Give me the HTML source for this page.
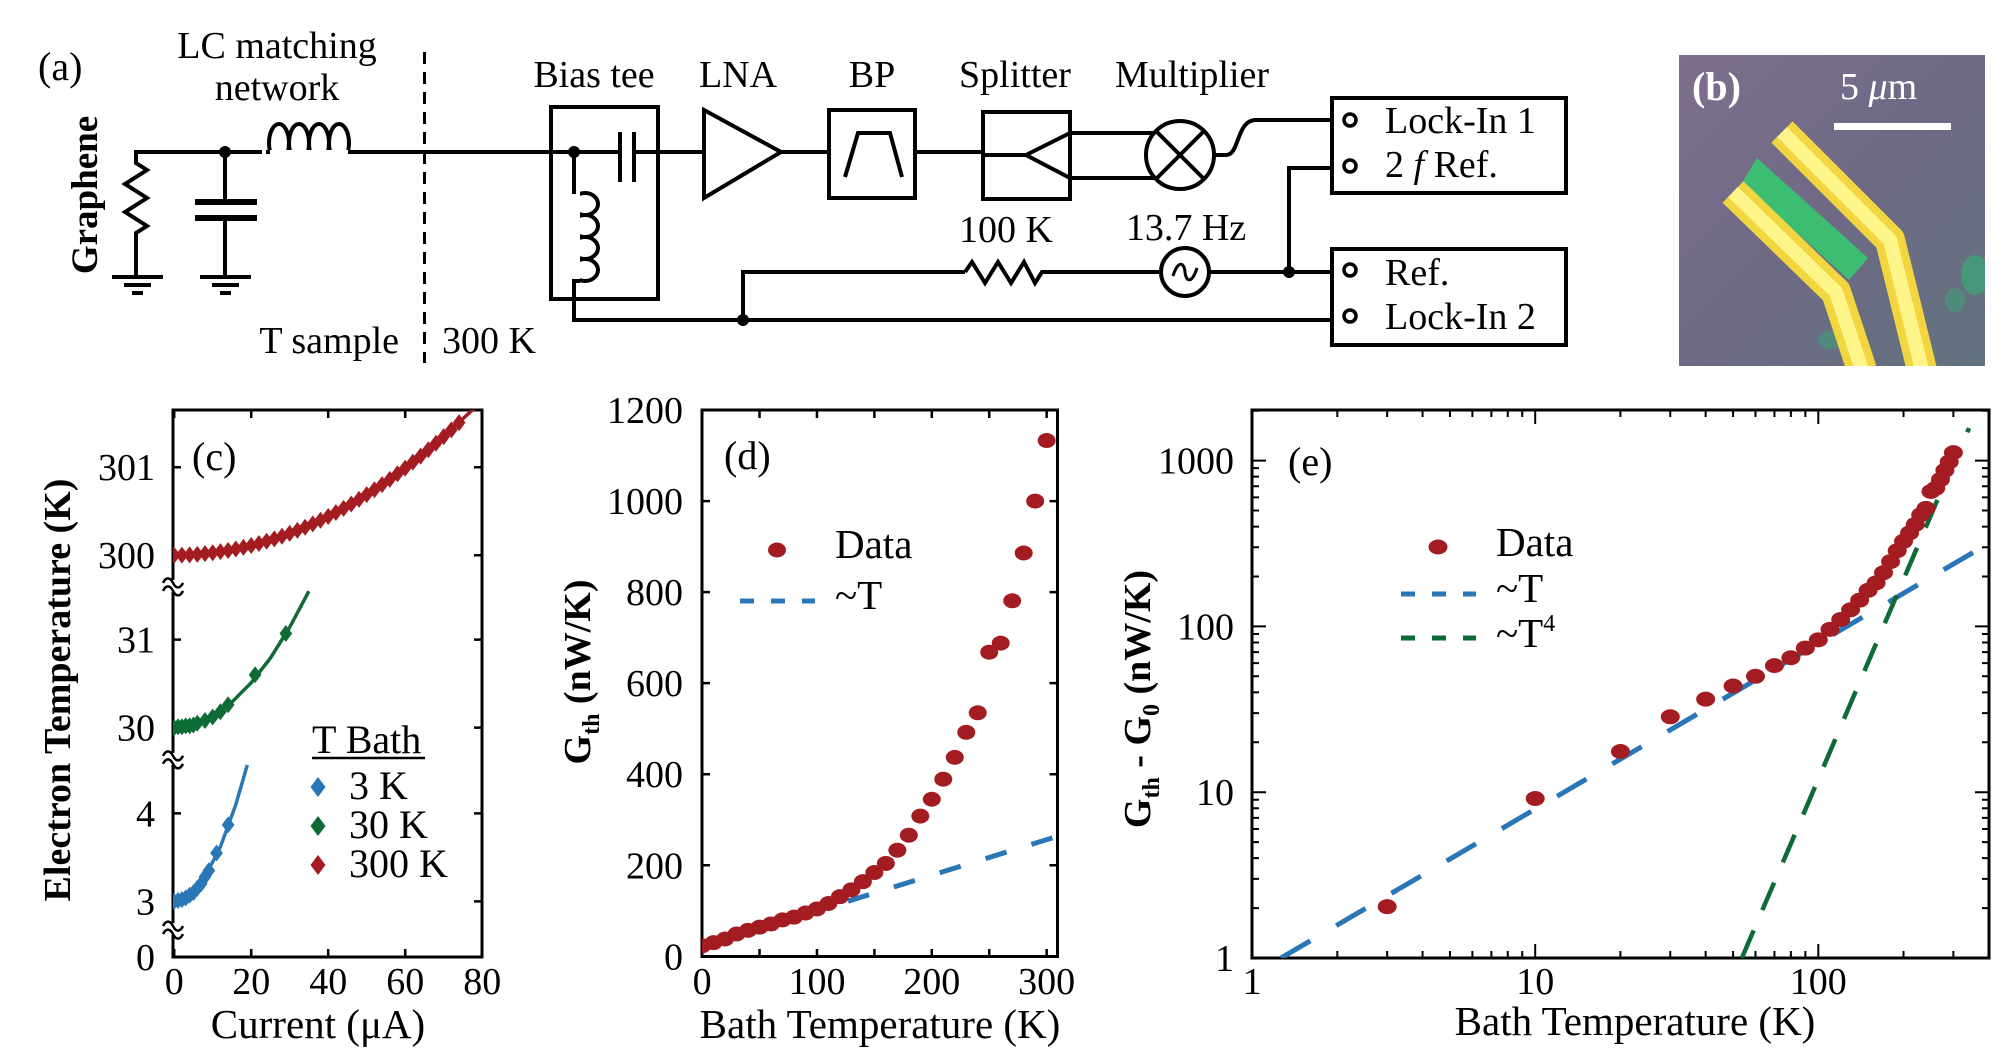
<!DOCTYPE html>
<html>
<head>
<meta charset="utf-8">
<style>
html,body{margin:0;padding:0;background:#fff;}
svg{display:block;font-family:"Liberation Serif",serif;}
</style>
</head>
<body>
<svg id="fig" width="2007" height="1050" viewBox="0 0 2007 1050" xmlns="http://www.w3.org/2000/svg">
<defs>
  <clipPath id="clipC"><rect x="173" y="410" width="309" height="547"/></clipPath>
  <clipPath id="clipD"><rect x="702" y="410" width="356" height="547"/></clipPath>
  <clipPath id="clipE"><rect x="1252" y="410" width="737" height="548"/></clipPath>
  <clipPath id="clipB"><rect x="1679" y="55" width="306" height="311"/></clipPath>
  <linearGradient id="photoBg" x1="0" y1="0" x2="1" y2="1">
    <stop offset="0" stop-color="#7c6f8c"/>
    <stop offset="0.5" stop-color="#6f6a86"/>
    <stop offset="1" stop-color="#62727e"/>
  </linearGradient>
</defs>

<!-- ===== Panel (a) circuit ===== -->
<g stroke="#000" stroke-width="4" fill="none">
  <text x="38" y="80" font-size="40" fill="#000" stroke="none">(a)</text>
  <text x="277" y="58" font-size="38" fill="#000" stroke="none" text-anchor="middle">LC matching</text>
  <text x="277" y="100" font-size="38" fill="#000" stroke="none" text-anchor="middle">network</text>
  <text transform="translate(97,195) rotate(-90)" font-size="37" font-weight="bold" fill="#000" stroke="none" text-anchor="middle">Graphene</text>
  <polyline points="266,152 136,152 136,163 147,170 125,184 147,198 125,212 147,226 136,233 136,277"/>
  <g>
    <line x1="112" y1="277" x2="163" y2="277"/><line x1="124" y1="285" x2="151" y2="285"/><line x1="132" y1="293" x2="143" y2="293"/>
  </g>
  <circle cx="225" cy="152" r="4" fill="#000"/>
  <line x1="225" y1="152" x2="225" y2="202"/>
  <line x1="195" y1="202" x2="257" y2="202" stroke-width="6"/>
  <line x1="195" y1="218" x2="257" y2="218" stroke-width="6"/>
  <line x1="225" y1="218" x2="225" y2="277"/>
  <g>
    <line x1="200" y1="277" x2="251" y2="277"/><line x1="212" y1="285" x2="239" y2="285"/><line x1="220" y1="293" x2="231" y2="293"/>
  </g>
  <g>
    <ellipse cx="279" cy="143" rx="10" ry="19"/><ellipse cx="299" cy="143" rx="10" ry="19"/><ellipse cx="319" cy="143" rx="10" ry="19"/><ellipse cx="339" cy="143" rx="10" ry="19"/>
    <rect x="262" y="150" width="96" height="16" fill="#fff" stroke="none"/>
    <line x1="266" y1="152" x2="270" y2="152"/><line x1="348" y1="152" x2="355" y2="152"/>
  </g>
  <line x1="355" y1="152" x2="620" y2="152"/>
  <line x1="424.5" y1="52" x2="424.5" y2="363" stroke-width="3" stroke-dasharray="12,8"/>
  <text x="399" y="353" font-size="38" fill="#000" stroke="none" text-anchor="end">T sample</text>
  <text x="442" y="353" font-size="38" fill="#000" stroke="none">300 K</text>

  <text x="594" y="87" font-size="38" fill="#000" stroke="none" text-anchor="middle">Bias tee</text>
  <rect x="551" y="107" width="107" height="192"/>
  <circle cx="574" cy="152" r="4" fill="#000"/>
  <line x1="620" y1="132" x2="620" y2="182"/><line x1="634" y1="132" x2="634" y2="182"/>
  <line x1="634" y1="152" x2="704" y2="152"/>
  <line x1="574" y1="152" x2="574" y2="192"/>
  <g>
    <ellipse cx="585" cy="204" rx="13" ry="11"/><ellipse cx="585" cy="226" rx="13" ry="11"/><ellipse cx="585" cy="248" rx="13" ry="11"/><ellipse cx="585" cy="270" rx="13" ry="11"/>
    <rect x="568" y="190" width="12" height="95" fill="#fff" stroke="none"/>
  </g>
  <line x1="574" y1="190" x2="574" y2="194"/>
  <polyline points="580,281 574,281 574,320 1332,320"/>
  <circle cx="743" cy="320" r="4" fill="#000"/>
  <polyline points="743,320 743,272 965,272"/>
  <polyline points="965,272 972,262 985,283 998,262 1011,283 1024,262 1035,283 1042,272 1161,272"/>
  <text x="1006" y="242" font-size="38" fill="#000" stroke="none" text-anchor="middle">100 K</text>
  <circle cx="1185" cy="272" r="24"/>
  <path d="M1173,276 C1178,260 1184,262 1185,272 C1186,282 1192,284 1197,268" stroke-width="3"/>
  <text x="1186" y="240" font-size="38" fill="#000" stroke="none" text-anchor="middle">13.7 Hz</text>
  <line x1="1209" y1="272" x2="1332" y2="272"/>
  <circle cx="1289" cy="272" r="4" fill="#000"/>
  <polyline points="1289,272 1289,168 1332,168"/>

  <text x="738" y="87" font-size="38" fill="#000" stroke="none" text-anchor="middle">LNA</text>
  <polygon points="704,110 704,198 781,152"/>
  <line x1="781" y1="152" x2="829" y2="152"/>
  <text x="872" y="87" font-size="38" fill="#000" stroke="none" text-anchor="middle">BP</text>
  <rect x="829" y="110" width="86" height="88"/>
  <polyline points="845,177 858,133 890,133 902,177"/>
  <line x1="915" y1="152" x2="983" y2="152"/>
  <text x="1015" y="87" font-size="38" fill="#000" stroke="none" text-anchor="middle">Splitter</text>
  <rect x="983" y="112" width="87" height="87"/>
  <polyline points="983,155 1026,155"/>
  <polyline points="1070,133 1026,155 1070,178"/>
  <line x1="1070" y1="133" x2="1154" y2="133"/><line x1="1070" y1="178" x2="1155" y2="178"/>
  <text x="1192" y="87" font-size="38" fill="#000" stroke="none" text-anchor="middle">Multiplier</text>
  <circle cx="1180" cy="155" r="34"/>
  <line x1="1156" y1="131" x2="1204" y2="179"/><line x1="1204" y1="131" x2="1156" y2="179"/>
  <path d="M1214,155 L1226,155 C1240,155 1236,120 1256,120 L1332,120"/>

  <rect x="1332" y="98" width="234" height="95"/>
  <circle cx="1350" cy="120" r="6" stroke-width="3.5"/><circle cx="1350" cy="166" r="6" stroke-width="3.5"/>
  <text x="1385" y="133" font-size="38" fill="#000" stroke="none">Lock-In 1</text>
  <text x="1385" y="177" font-size="38" fill="#000" stroke="none">2 <tspan font-style="italic">f</tspan> Ref.</text>
  <rect x="1332" y="249" width="234" height="96"/>
  <circle cx="1350" cy="270" r="6" stroke-width="3.5"/><circle cx="1350" cy="316" r="6" stroke-width="3.5"/>
  <text x="1385" y="285" font-size="38" fill="#000" stroke="none">Ref.</text>
  <text x="1385" y="329" font-size="38" fill="#000" stroke="none">Lock-In 2</text>
</g>

<!-- ===== Panel (b) photo ===== -->
<g clip-path="url(#clipB)">
  <rect x="1679" y="55" width="306" height="311" fill="url(#photoBg)"/>
  <ellipse cx="1975" cy="275" rx="14" ry="20" fill="#3aa878" opacity="0.7"/>
  <ellipse cx="1955" cy="300" rx="10" ry="12" fill="#3aa878" opacity="0.5"/>
  <ellipse cx="1830" cy="340" rx="12" ry="9" fill="#3aa878" opacity="0.5"/>
  <polygon points="1757,158 1742,183 1849,280 1868,258" fill="#3dbd72"/>
  <polyline points="1733,192 1836,292 1862,370" fill="none" stroke="#f2d640" stroke-width="30" stroke-linejoin="round"/>
  <polyline points="1733,192 1836,292 1862,370" fill="none" stroke="#fdf48a" stroke-width="14" stroke-linejoin="round"/>
  <polyline points="1782,132 1890,240 1922,370" fill="none" stroke="#f2d640" stroke-width="30" stroke-linejoin="round"/>
  <polyline points="1782,132 1890,240 1922,370" fill="none" stroke="#fdf48a" stroke-width="14" stroke-linejoin="round"/>
  <text x="1692" y="100" font-size="40" font-weight="bold" fill="#fff">(b)</text>
  <text x="1840" y="99" font-size="38" fill="#fff">5 <tspan font-style="italic">μ</tspan>m</text>
  <rect x="1834" y="123" width="117" height="7" fill="#fff"/>
</g>

<g id="charts"></g>
</svg>

<script>
// ---------- Panel (c) data ----------
const cRedI = [0,2,4,6,8,10,12,14,16,18,20,22,24,26,28,30,32,34,36,38,40,42,44,46,48,50,52,54,56,58,60,62,64,66,68,70,72,74];
const cRedT = [300,300.001,300.004,300.01,300.018,300.028,300.04,300.054,300.07,300.089,300.11,300.133,300.158,300.186,300.216,300.248,300.282,300.318,300.356,300.397,300.44,300.485,300.532,300.582,300.634,300.688,300.744,300.802,300.862,300.925,300.99,301.057,301.126,301.198,301.272,301.348,301.426,301.506];
const cRedFitI = [0,10,20,30,40,50,60,70,78];
const cRedFitT = [300,300.028,300.11,300.248,300.44,300.688,300.99,301.348,301.673];
const cGreenI = [0,1,2,3,4,5,6,8,10,12,14,21,29];
const cGreenT = [30,30.01,30.01,30.02,30.02,30.03,30.05,30.08,30.12,30.18,30.26,30.6,31.07];
const cGreenFitI = [0,5,10,15,20,25,30,35];
const cGreenFitT = [30,30.03,30.13,30.29,30.51,30.79,31.14,31.55];
const cBlueI = [0,1,2,3,4,5,6,7,8,9,11,14];
const cBlueT = [3,3.01,3.02,3.04,3.07,3.1,3.15,3.2,3.28,3.35,3.55,3.87];
const cBlueFitI = [0,4,8,12,16,19];
const cBlueFitT = [3,3.07,3.28,3.62,4.1,4.55];
const cXTicks = [0,20,40,60,80];
const cYTicks = [0,3,4,30,31,300,301];
const cBreaks = [1.5,4.62,31.61];
const cLegendNames = ["3 K","30 K","300 K"];

// ---------- Panel (d) data ----------
const dT = [0,10,20,30,40,50,60,70,80,90,100,110,120,130,140,150,160,170,180,190,200,210,220,230,240,250,260,270,280,290,300];
const dG = [23,30,38,49,57,64,71,80,86,95,104,116,131,146,164,184,204,233,266,308,345,389,437,492,535,668,688,781,886,1000,1133];
const dFitT = [127,310];
const dFitG = [121,264];
const dXTicks = [0,100,200,300];
const dXMinor = [50,150,250];
const dYTicks = [0,200,400,600,800,1000,1200];

// ---------- Panel (e) data ----------
const eT = [3,10,20,30,40,50,60,70,80,90,100,110,120,130,140,150,160,170,180,190,200,210,220,230,240,250,260,270,280,290,300];
const eG = [2.04,9.16,17.6,28.5,36.4,43.7,50,58,64.7,74,83,96,110,126,144,165,183,211,246,286,326,366,412,471,515,651,682,768,873,982,1117];
const eLinT = [1.265,401];
const eLinG = [1,318];
const eT4T = [53.7,60,80,100,130,160,200,260,341];
const eT4G = [1,1.56,4.9,12.0,34.3,78.8,192,549,1571];
const eXTicks = [1,10,100];
const eYTicks = [1,10,100,1000];

const NS = 'http://www.w3.org/2000/svg';
const root = document.getElementById('charts');
function mk(tag, attrs, parent){
  const e = document.createElementNS(NS, tag);
  for (const k in attrs) e.setAttribute(k, attrs[k]);
  (parent || root).appendChild(e);
  return e;
}
const RED = '#a31c22', BLUE = '#2a77b8', GREEN = '#0e6b36';

const cX = I => 174.2 + I * 3.85;
const cY = T => T >= 250 ? 555.2 - (T - 300) * 88 : (T >= 20 ? 727.6 - (T - 30) * 88 : (T >= 2 ? 901.4 - (T - 3) * 88 : 957 - T * 18.6));
const dX = T => 702.1 + T * 1.1485;
const dY = G => 956.3 - G * 0.4552;
const eX = T => 1252.1 + Math.log10(T) * 283.1;
const eY = G => 958 - Math.log10(G) * 165.8;

function diamond(g, x, y, s, color){
  return mk('polygon', {points: `${x},${y-s} ${x+s*0.75},${y} ${x},${y+s} ${x-s*0.75},${y}`, fill: color}, g);
}
function pathFrom(xs, ys, fx, fy){
  return xs.map((v,i) => (i ? 'L' : 'M') + fx(v).toFixed(1) + ',' + fy(ys[i]).toFixed(1)).join(' ');
}
function text(g, x, y, s, size, anchor){
  const t = mk('text', {x: x, y: y, 'font-size': size || 38, 'text-anchor': anchor || 'middle', fill: '#000'}, g);
  t.textContent = s;
  return t;
}

// ================= Panel (c) =================
const gc = mk('g', {});


const cBox = mk('rect', {x: 173, y: 410, width: 309, height: 547, fill: 'none', stroke: '#000', 'stroke-width': 3}, gc);


cXTicks.forEach(v => {
  const x = cX(v);
  const tk = mk('path', {d: `M${x},957 v-8 M${x},410 v8`, stroke: '#000', 'stroke-width': 2.5}, gc);
  
  
  const lb = text(gc, x, 994, String(v), 38);
  
  
});
cYTicks.forEach(v => {
  const y = cY(v);
  const tk = mk('path', {d: `M173,${y} h8 M482,${y} h-8`, stroke: '#000', 'stroke-width': 2.5}, gc);
  
  
  const lb = text(gc, 155, y + 13, String(v), 38, 'end');
  
  
});
cBreaks.forEach(v => {
  const y = cY(v);
  const g = mk('g', {}, gc);
  
  
  mk('rect', {x: 165, y: y - 6, width: 16, height: 12, fill: '#fff'}, g);
  mk('path', {d: `M163,${y-3} c3,-6 7,-6 10,0 s7,6 10,0 M163,${y+5} c3,-6 7,-6 10,0 s7,6 10,0`, fill: 'none', stroke: '#000', 'stroke-width': 2.5}, g);
});
const cPlot = mk('g', {'clip-path': 'url(#clipC)'}, gc);


[[cRedFitI, cRedFitT, RED, 'fit-300k'], [cGreenFitI, cGreenFitT, GREEN, 'fit-30k'], [cBlueFitI, cBlueFitT, BLUE, 'fit-3k']].forEach(s => {
  const p = mk('path', {d: pathFrom(s[0], s[1], cX, cY), fill: 'none', stroke: s[2], 'stroke-width': 3.5}, cPlot);
  
  
});
[[cRedI, cRedT, RED, 'point-300k'], [cGreenI, cGreenT, GREEN, 'point-30k'], [cBlueI, cBlueT, BLUE, 'point-3k']].forEach(s => {
  s[0].forEach((I, i) => {
    const d = diamond(cPlot, cX(I), cY(s[1][i]), 8.5, s[2]);
    
    
  });
});
const cLab = text(gc, 192, 470, '(c)', 40, 'start');


const cLegTitle = text(gc, 312, 753, 'T Bath', 40, 'start');


const cUl = mk('line', {x1: 312, y1: 758, x2: 425, y2: 758, stroke: '#000', 'stroke-width': 2.5}, gc);


[BLUE, GREEN, RED].forEach((col, i) => {
  const dm = diamond(gc, 318, 787 + i * 39, 10, col);
  
  
  const lt = text(gc, 349, 799 + i * 39, cLegendNames[i], 40, 'start');
  
  
});
const cXT = text(gc, 318, 1038, 'Current (μA)', 41);


const cYT = text(gc, 0, 0, 'Electron Temperature (K)', 38);
cYT.setAttribute('transform', 'translate(70,690) rotate(-90)');
cYT.setAttribute('font-weight', 'bold');



// ================= Panel (d) =================
const gd = mk('g', {});


const dBox = mk('rect', {x: 702, y: 410, width: 355.5, height: 546.5, fill: 'none', stroke: '#000', 'stroke-width': 3}, gd);


dXTicks.concat(dXMinor).forEach(v => {
  const x = dX(v);
  const tk = mk('path', {d: `M${x},957 v-8 M${x},410 v8`, stroke: '#000', 'stroke-width': 2.5}, gd);
  
  
});
dXTicks.forEach(v => {
  const lb = text(gd, dX(v), 994, String(v), 38);
  
  
});
dYTicks.forEach(v => {
  const y = dY(v);
  const tk = mk('path', {d: `M702,${y} h8 M1057.5,${y} h-8`, stroke: '#000', 'stroke-width': 2.5}, gd);
  
  
  const lb = text(gd, 683, y + 13, String(v), 38, 'end');
  
  
});
const dPlot = mk('g', {'clip-path': 'url(#clipD)'}, gd);


const dFit = mk('path', {d: pathFrom(dFitT, dFitG, dX, dY), fill: 'none', stroke: BLUE, 'stroke-width': 5, 'stroke-dasharray': '22,26'}, dPlot);


dT.forEach((T, i) => {
  const e = mk('ellipse', {cx: dX(T), cy: dY(dG[i]), rx: 9, ry: 7.5, fill: RED}, dPlot);
  
  
});
const dLab = text(gd, 724, 469, '(d)', 40, 'start');


const dLm = mk('ellipse', {cx: 777, cy: 550, rx: 9, ry: 7.5, fill: RED}, gd);


const dLt = text(gd, 835, 558, 'Data', 41, 'start');


const dLl = mk('line', {x1: 740, y1: 601, x2: 815, y2: 601, stroke: BLUE, 'stroke-width': 5, 'stroke-dasharray': '14,17'}, gd);


const dLt2 = text(gd, 835, 609, '~T', 41, 'start');


const dXT = text(gd, 880, 1038, 'Bath Temperature (K)', 41);


const dYT = mk('text', {transform: 'translate(590,672) rotate(-90)', 'font-size': 38, 'font-weight': 'bold', 'text-anchor': 'middle', fill: '#000'}, gd);
dYT.innerHTML = 'G<tspan font-size="24" dy="9">th</tspan><tspan dy="-9"> (nW/K)</tspan>';



// ================= Panel (e) =================
const ge = mk('g', {});


const eBox = mk('rect', {x: 1252, y: 410, width: 737, height: 548, fill: 'none', stroke: '#000', 'stroke-width': 3}, ge);


for (let dec = 1; dec <= 100; dec *= 10) {
  for (let m = 1; m <= 9; m++) {
    const v = m * dec;
    if (v > 400) break;
    const x = eX(v); const L = m === 1 ? 14 : 7;
    const tk = mk('path', {d: `M${x},958 v-${L} M${x},410 v${L}`, stroke: '#000', 'stroke-width': 2}, ge);
    
    
  }
}
for (let dec = 1; dec <= 1000; dec *= 10) {
  for (let m = 1; m <= 9; m++) {
    const v = m * dec;
    if (v > 2000) break;
    const y = eY(v); const L = m === 1 ? 14 : 7;
    const tk = mk('path', {d: `M1252,${y} h${L} M1989,${y} h-${L}`, stroke: '#000', 'stroke-width': 2}, ge);
    
    
  }
}
eXTicks.forEach(v => {
  const lb = text(ge, eX(v), 994, String(v), 38);
  
  
});
eYTicks.forEach(v => {
  const lb = text(ge, 1234, eY(v) + 13, String(v), 38, 'end');
  
  
});
const ePlot = mk('g', {'clip-path': 'url(#clipE)'}, ge);


const eLin = mk('path', {d: pathFrom(eLinT, eLinG, eX, eY), fill: 'none', stroke: BLUE, 'stroke-width': 5, 'stroke-dasharray': '34,30'}, ePlot);


const eT4 = mk('path', {d: pathFrom(eT4T, eT4G, eX, eY), fill: 'none', stroke: GREEN, 'stroke-width': 4.5, 'stroke-dasharray': '30,22'}, ePlot);


eT.forEach((T, i) => {
  const e = mk('ellipse', {cx: eX(T), cy: eY(eG[i]), rx: 9.5, ry: 7.5, fill: RED}, ePlot);
  
  
});
const eLab = text(ge, 1288, 475, '(e)', 40, 'start');


const eLm = mk('ellipse', {cx: 1438, cy: 547, rx: 9.5, ry: 7.5, fill: RED}, ge);


const eLt = text(ge, 1496, 556, 'Data', 41, 'start');


const eLl = mk('line', {x1: 1401, y1: 594, x2: 1476, y2: 594, stroke: BLUE, 'stroke-width': 5, 'stroke-dasharray': '14,17'}, ge);


const eLt2 = text(ge, 1496, 602, '~T', 41, 'start');


const eLl3 = mk('line', {x1: 1401, y1: 638, x2: 1476, y2: 638, stroke: GREEN, 'stroke-width': 5, 'stroke-dasharray': '14,17'}, ge);


const eLt3 = mk('text', {x: 1496, y: 647, 'font-size': 41, fill: '#000'}, ge);
eLt3.innerHTML = '~T<tspan font-size="24" dy="-16">4</tspan>';


const eXT = text(ge, 1635, 1035, 'Bath Temperature (K)', 41);


const eYT = mk('text', {transform: 'translate(1150,699) rotate(-90)', 'font-size': 38, 'font-weight': 'bold', 'text-anchor': 'middle', fill: '#000'}, ge);
eYT.innerHTML = 'G<tspan font-size="24" dy="9">th</tspan><tspan dy="-9"> - G</tspan><tspan font-size="24" dy="9">0</tspan><tspan dy="-9">  (nW/K)</tspan>';


</script>
</body>
</html>
